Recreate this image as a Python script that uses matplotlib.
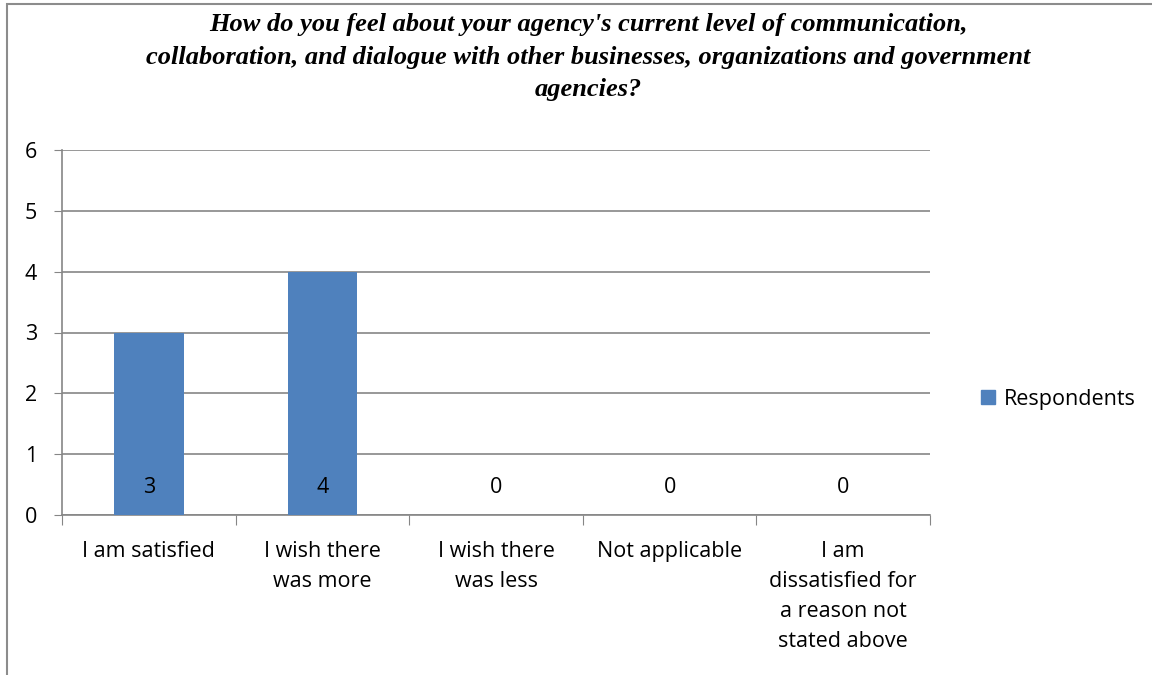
import matplotlib
matplotlib.use("Agg")
import matplotlib.pyplot as plt
from matplotlib.patches import Rectangle

categories = ["I am satisfied", "I wish there\nwas more", "I wish there\nwas less",
              "Not applicable", "I am\ndissatisfied for\na reason not\nstated above"]
respondents = [3, 4, 0, 0, 0]
title = ("How do you feel about your agency's current level of communication,\n"
         "collaboration, and dialogue with other businesses, organizations and government\n"
         "agencies?")

label_font = "Open Sans"
grid_col = "#868686"
bar_col = "#4F81BD"
fs = 15.5

fig = plt.figure(figsize=(11.52, 6.75), dpi=100)

# chart border (runs off the right and bottom edge)
fig.patches.append(Rectangle((7 / 1152, -0.05), 1.2, 1 - 4 / 675 + 0.05,
                             transform=fig.transFigure, fill=False,
                             edgecolor="#8c8c8c", linewidth=1.5))

ax = fig.add_axes([62 / 1152, 160 / 675, 868 / 1152, 365 / 675])

x = list(range(len(categories)))
ax.bar(x, respondents, width=0.4, color=bar_col, zorder=3)

for i, v in enumerate(respondents):
    ax.annotate(str(v), xy=(i, 0), xytext=(0, 20), textcoords="offset points",
                ha="center", va="center", fontsize=fs, family=label_font, zorder=4)

ax.set_xlim(-0.5, len(categories) - 0.5)
ax.set_ylim(0, 6)
ax.set_yticks(range(0, 7))
ax.tick_params(axis="y", length=6, color=grid_col, labelsize=fs, pad=12)
for t in ax.get_yticklabels():
    t.set_family(label_font)

ax.set_xticks([i - 0.5 for i in range(len(categories) + 1)])
ax.set_xticklabels([])
ax.tick_params(axis="x", which="major", length=7, color=grid_col)
ax.set_xticks(x, minor=True)
ax.set_xticklabels(categories, minor=True, fontsize=fs, family=label_font,
                   linespacing=1.56, va="top")
ax.tick_params(axis="x", which="minor", length=0, pad=19)

ax.yaxis.grid(True, color=grid_col, linewidth=1.2, zorder=0)
ax.set_axisbelow(True)
for s in ["top", "right"]:
    ax.spines[s].set_visible(False)
for s in ["left", "bottom"]:
    ax.spines[s].set_color(grid_col)
    ax.spines[s].set_linewidth(1.2)

fig.text(588 / 1152, 1 - 13 / 675, title, ha="center", va="top",
         fontsize=19, family="Liberation Serif", style="italic", weight="bold",
         linespacing=1.53)

fig.legend([Rectangle((0, 0), 1, 1, color=bar_col)], ["Respondents"],
           loc="center left", bbox_to_anchor=(962 / 1152, 1 - 399 / 675),
           frameon=False, prop={"family": label_font, "size": fs},
           handlelength=0.65, handleheight=0.65, handletextpad=0.4)

fig.savefig("out.png", dpi=100)
